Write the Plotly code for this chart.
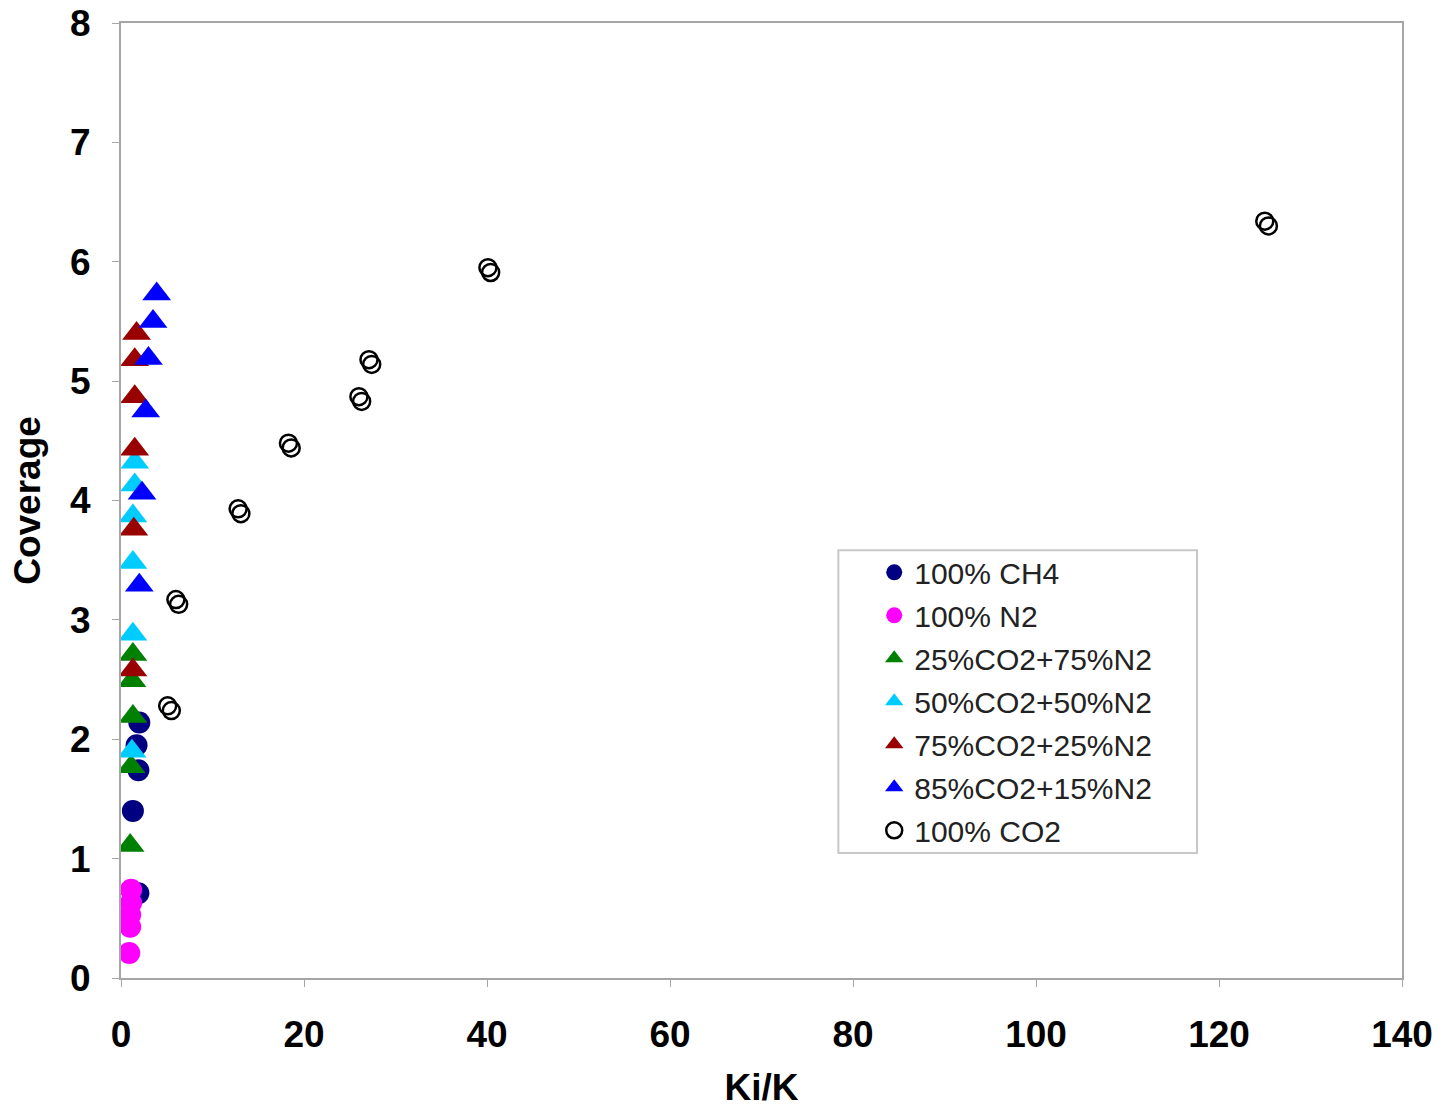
import plotly.graph_objects as go

# Ki/K ratio vs. coverage for each gas composition
ch4_x = [2.0, 1.7, 1.9, 1.3, 1.9]
ch4_y = [2.14, 1.95, 1.74, 1.40, 0.71]

n2_x = [1.1, 1.1, 1.0, 1.0, 0.9]
n2_y = [0.74, 0.63, 0.53, 0.43, 0.21]

co2_25_x = [1.3, 1.2, 1.3, 1.1, 1.0]
co2_25_y = [2.71, 2.49, 2.19, 1.77, 1.11]

co2_50_x = [1.5, 1.5, 1.3, 1.3, 1.3, 1.2]
co2_50_y = [4.32, 4.13, 3.87, 3.48, 2.88, 1.90]

co2_75_x = [1.7, 1.5, 1.5, 1.5, 1.4, 1.3]
co2_75_y = [5.40, 5.18, 4.87, 4.43, 3.76, 2.58]

co2_85_x = [3.9, 3.5, 3.0, 2.7, 2.3, 2.0]
co2_85_y = [5.73, 5.50, 5.19, 4.75, 4.06, 3.29]

co2_100_x = [125.0, 125.4, 40.1, 40.4, 27.1, 27.4, 26.0, 26.3,
             18.3, 18.6, 12.8, 13.1, 6.0, 6.3, 5.1, 5.5]
co2_100_y = [6.34, 6.30, 5.95, 5.91, 5.18, 5.14, 4.87, 4.83,
             4.48, 4.44, 3.93, 3.89, 3.17, 3.13, 2.28, 2.24]

font_family = "Liberation Sans, Arial, sans-serif"

fig = go.Figure()

filled = [
    ("100% CH4", ch4_x, ch4_y, "circle", "#000080", 22),
    ("100% N2", n2_x, n2_y, "circle", "#ff00ff", 22),
    ("25%CO2+75%N2", co2_25_x, co2_25_y, "triangle-up", "#008000", 25),
    ("50%CO2+50%N2", co2_50_x, co2_50_y, "triangle-up", "#00ccff", 25),
    ("75%CO2+25%N2", co2_75_x, co2_75_y, "triangle-up", "#990000", 25),
    ("85%CO2+15%N2", co2_85_x, co2_85_y, "triangle-up", "#0000ff", 25),
]
for i, (name, xs, ys, sym, col, sz) in enumerate(filled):
    fig.add_trace(go.Scatter(
        x=xs, y=ys, mode="markers", name=name, legendgroup=f"g{i}",
        marker=dict(symbol=sym, color=col, size=sz, line=dict(width=0)),
    ))

fig.add_trace(go.Scatter(
    x=co2_100_x, y=co2_100_y, mode="markers", name="100% CO2", legendgroup="g6",
    marker=dict(symbol="circle-open", color="black", size=17,
                line=dict(color="black", width=2.5)),
))

axis_common = dict(
    showline=True, linecolor="#a6a6a6", linewidth=2, mirror=True,
    ticks="outside", ticklen=7, tickcolor="#a6a6a6", tickwidth=1,
    showgrid=False, zeroline=False, automargin=False,
    tickfont=dict(family=font_family, size=37, color="black", weight="bold"),
)

fig.update_layout(
    width=1447, height=1110,
    margin=dict(l=121, r=45, t=23, b=132),
    plot_bgcolor="white", paper_bgcolor="white",
    showlegend=True,
    xaxis=dict(range=[0, 140], dtick=20, ticklabelstandoff=16, **axis_common,
               title=dict(text="Ki/K", standoff=20,
                          font=dict(family=font_family, size=37, color="black", weight="bold"))),
    yaxis=dict(range=[0, 8], dtick=1, ticklabelstandoff=14, **axis_common,
               title=dict(text="Coverage", standoff=18,
                          font=dict(family=font_family, size=37, color="black", weight="bold"))),
    legend=dict(
        x=0.588, y=0.452, xanchor="left", yanchor="top",
        bgcolor="rgba(0,0,0,0)", borderwidth=0,
        traceorder="grouped", tracegroupgap=1,
        font=dict(family=font_family, size=30, color="#222222"),
        itemsizing="trace",
    ),
    shapes=[dict(
        type="rect", xref="paper", yref="paper",
        x0=0.56, x1=0.84, y0=0.131, y1=0.448,
        line=dict(color="#c8c8c8", width=2), fillcolor="rgba(0,0,0,0)", layer="below",
    )],
)

fig.write_html("out.html")
